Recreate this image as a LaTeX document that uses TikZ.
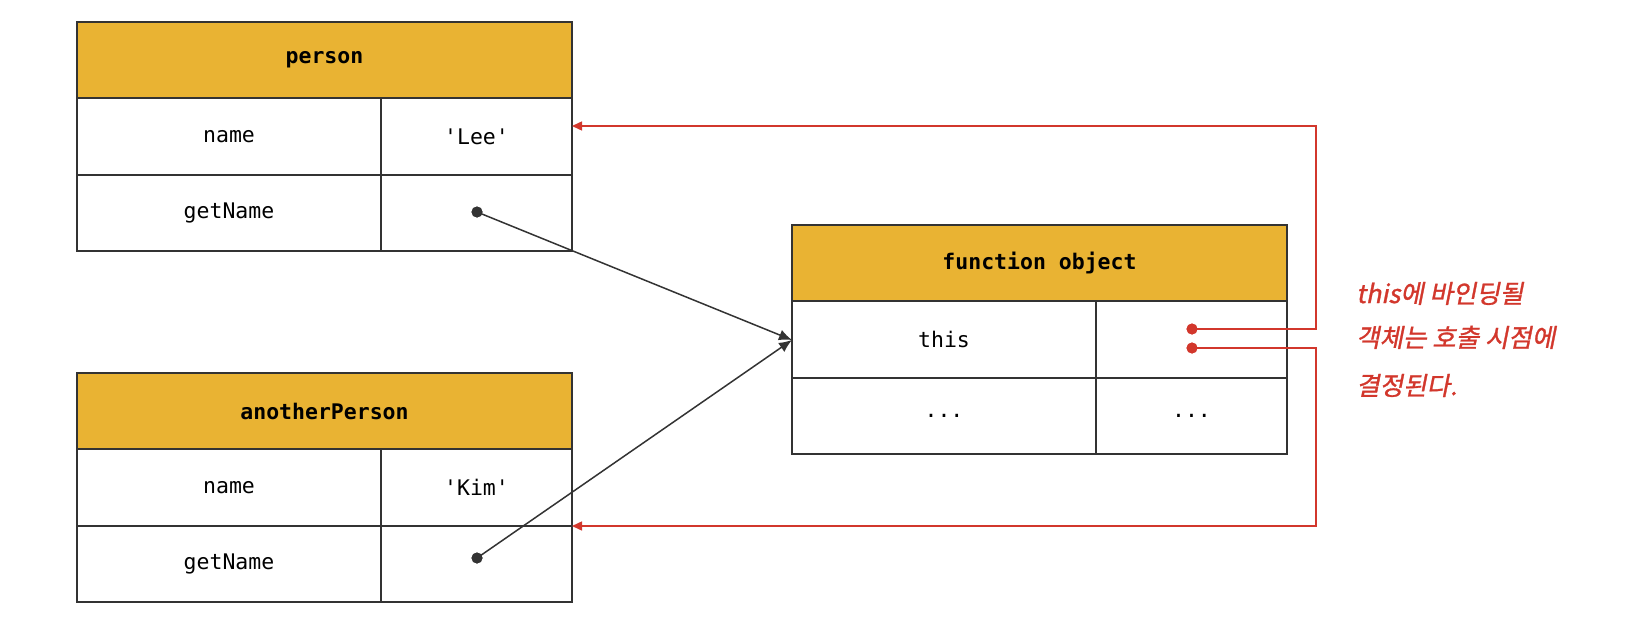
\documentclass[tikz,border=0pt]{standalone}
\usepackage{fontspec}
\setmonofont{DejaVu Sans Mono}
\newfontfamily\krfont[FakeSlant=0.2,FakeBold=1.2]{Noto Sans CJK KR}
\usetikzlibrary{arrows.meta}
\definecolor{hdrcol}{HTML}{E9B333}
\definecolor{redcol}{HTML}{D2372C}
\definecolor{inkcol}{HTML}{333333}
\tikzset{
  cellbox/.style={draw=inkcol, line width=2pt, inner sep=0pt, minimum height=76.33pt, font=\ttfamily\fontsize{21.5}{26}\selectfont, text=black},
  keybox/.style={cellbox, minimum width=304pt},
  valbox/.style={cellbox, minimum width=191pt},
  hdrbox/.style={cellbox, minimum width=495pt, fill=hdrcol, font=\ttfamily\bfseries\fontsize{21.5}{26}\selectfont},
  blkdot/.style={circle, fill=inkcol, inner sep=0pt, minimum size=11pt},
  reddot/.style={circle, fill=redcol, inner sep=0pt, minimum size=11pt},
  blkline/.style={draw=inkcol, line width=1.5pt, -{Latex[length=13pt,width=11pt,fill=inkcol]}},
  redline/.style={draw=redcol, line width=1.5pt, -{Triangle[length=10pt,width=9pt]}},
  note/.style={anchor=base west, inner sep=0pt, text=redcol, font=\krfont\fontsize{25.5}{30}\selectfont}
}
\begin{document}
\begin{tikzpicture}[x=1pt,y=-1pt]
\useasboundingbox (0,0) rectangle (1644,626);
% person
\node[hdrbox] (ph) at (324.5,60.17) {person};
\node[keybox] (pk1) at (229,136.5) {name};
\node[valbox] (pv1) at (476.5,136.5) {'Lee'};
\node[keybox] (pk2) at (229,212.83) {getName};
\node[valbox] (pv2) at (476.5,212.83) {};
% anotherPerson
\node[hdrbox] (ah) at (324.5,411.17) {anotherPerson};
\node[keybox] (ak1) at (229,487.5) {name};
\node[valbox] (av1) at (476.5,487.5) {'Kim'};
\node[keybox] (ak2) at (229,563.83) {getName};
\node[valbox] (av2) at (476.5,563.83) {};
% function object
\node[hdrbox] (fh) at (1039.5,263.17) {function object};
\node[keybox] (fk1) at (944,339.5) {this};
\node[valbox] (fv1) at (1191.5,339.5) {};
\node[keybox] (fk2) at (944,415.83) {...};
\node[valbox] (fv2) at (1191.5,415.83) {...};
% dots
\node[blkdot] (d1) at (477,212) {};
\node[blkdot] (d2) at (477,558) {};
\node[reddot] (r1) at (1192,329) {};
\node[reddot] (r2) at (1192,348) {};
% connector targets
\coordinate (tgt) at (792,340);
\coordinate (lee) at (572,126);
\coordinate (kim) at (572,526);
% black arrows
\draw[blkline] (d1.center) -- (tgt);
\draw[blkline] (d2.center) -- (tgt);
% red arrows
\draw[redline] (r1.center) -- (1316,329) -- (1316,126) -- (lee);
\draw[redline] (r2.center) -- (1316,348) -- (1316,526) -- (kim);
\node[reddot] at (r1) {};
\node[reddot] at (r2) {};
\node[blkdot] at (d1) {};
\node[blkdot] at (d2) {};
% note
\node[note] (n1) at (1356,303) {this에 바인딩될};
\node[note] (n2) at (1356,347) {객체는 호출 시점에};
\node[note] (n3) at (1356,395) {결정된다.};
\end{tikzpicture}
\end{document}
